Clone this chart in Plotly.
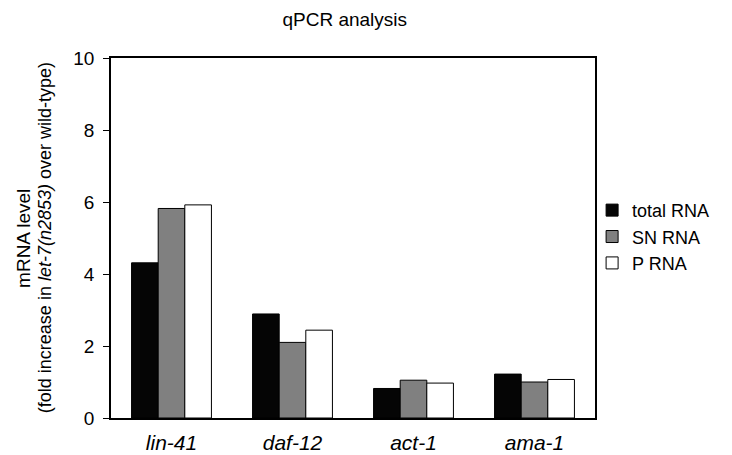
import plotly.graph_objects as go

categories = ["lin-41", "daf-12", "act-1", "ama-1"]
total_rna = [4.31, 2.89, 0.82, 1.22]
sn_rna = [5.82, 2.10, 1.05, 1.00]
p_rna = [5.92, 2.44, 0.97, 1.07]
series_names = ["total RNA", "SN RNA", "P RNA"]
series_colors = ["#050505", "#808080", "#ffffff"]
y_ticks = [0, 2, 4, 6, 8, 10]

cat_labels = ["<i>%s</i>" % c for c in categories]

fig = go.Figure()
for name, vals, col in zip(series_names, [total_rna, sn_rna, p_rna], series_colors):
    fig.add_trace(go.Bar(
        x=cat_labels, y=vals, name=name,
        marker=dict(color=col, line=dict(color="#000000", width=1)),
    ))

fig.update_layout(
    width=732, height=455,
    margin=dict(l=111, r=137, t=58, b=37, autoexpand=False),
    paper_bgcolor="white", plot_bgcolor="white",
    barmode="group", bargap=0.34, bargroupgap=0,
    font=dict(family="Liberation Sans, Arial, sans-serif", color="#000000", size=18),
    title=dict(text="qPCR analysis", x=0.471, xanchor="center", y=0.957, yanchor="middle",
               font=dict(size=19)),
    legend=dict(x=0.994, xanchor="left", y=0.503, yanchor="middle",
                font=dict(size=18), itemwidth=30, tracegroupgap=0,
                bgcolor="rgba(0,0,0,0)"),
    xaxis=dict(showline=True, linecolor="#000000", linewidth=1.5, mirror=True,
               ticks="", tickfont=dict(size=21), showgrid=False,
               ticklabelstandoff=5, automargin=False),
    yaxis=dict(range=[0, 10], tickvals=y_ticks, showline=True, linecolor="#000000",
               linewidth=1.5, mirror=True, ticks="outside", ticklen=6, tickwidth=1,
               tickcolor="#000000", showgrid=False, zeroline=False,
               tickfont=dict(size=19), ticklabelstandoff=5, automargin=False),
)

fig.add_annotation(text="mRNA level", xref="paper", yref="paper", x=-0.182, y=0.5,
                   xanchor="center", yanchor="middle", textangle=-90, showarrow=False,
                   font=dict(size=19))
fig.add_annotation(text="(fold increase in <i>let-7(n2853)</i> over wild-type)",
                   xref="paper", yref="paper", x=-0.136, y=0.5,
                   xanchor="center", yanchor="middle", textangle=-90, showarrow=False,
                   font=dict(size=18))

fig.write_html("out.html")
